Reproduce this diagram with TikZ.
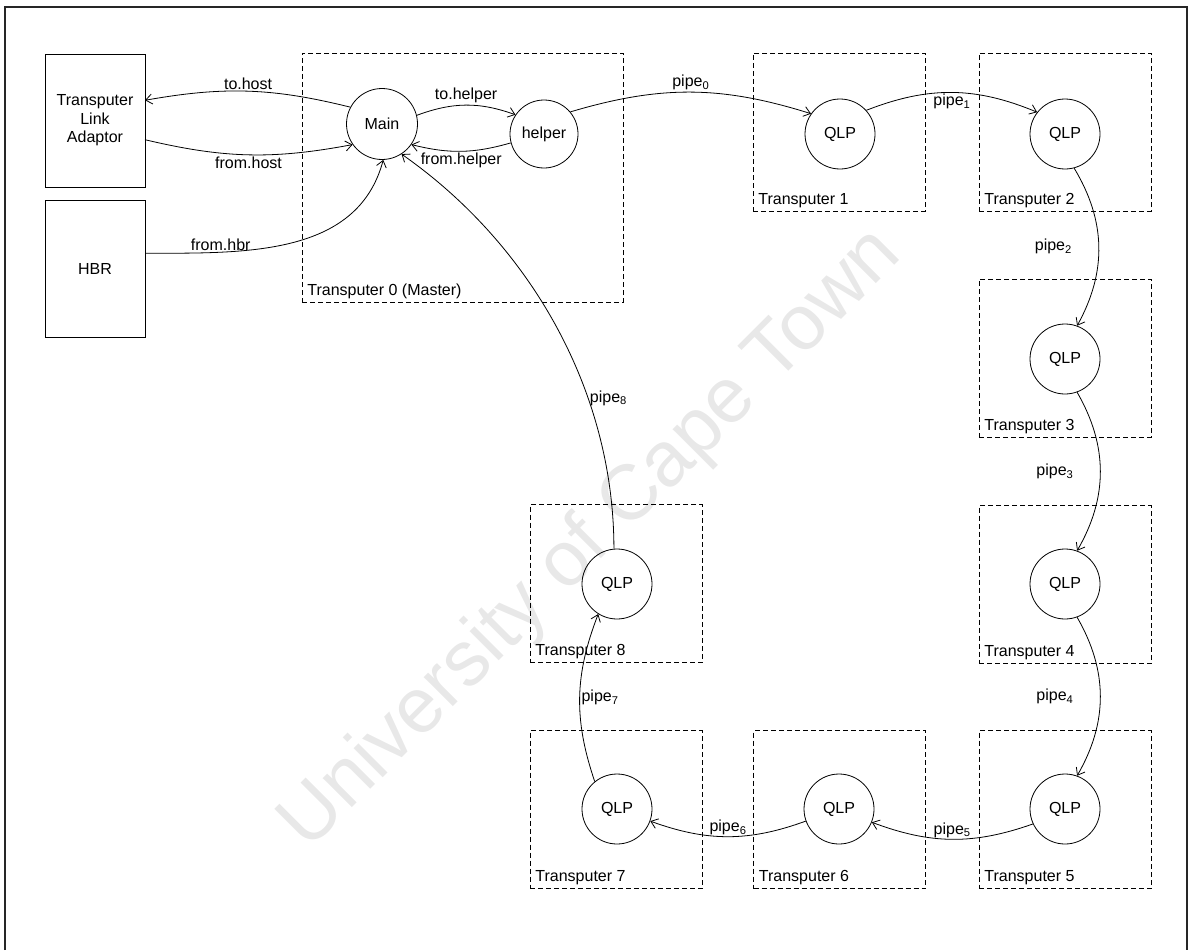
\documentclass[tikz,border=0pt]{standalone}
\usepackage{fontspec}
\setmainfont{Liberation Sans}
\usetikzlibrary{arrows.meta,calc}

\begin{document}
\begin{tikzpicture}[x=1pt,y=-1pt,
  font=\fontsize{16}{18.5}\selectfont,
  line width=0.8pt,
  proc/.style={circle, draw, minimum size=70pt, inner sep=0pt},
  tbox/.style={draw, dash pattern=on 5pt off 3pt, minimum width=172pt, minimum height=158pt, inner sep=0pt, outer sep=0pt},
  dev/.style={draw, align=center, minimum width=100pt, inner sep=0pt, outer sep=0pt},
  tname/.style={anchor=base west, inner sep=0pt},
  link/.style={-{Straight Barb[length=6.5pt,width=10pt]}},
  lab/.style={inner sep=1.5pt}
]
\useasboundingbox (0,0) rectangle (1190,950);

% watermark
\node[rotate=45, text=black!9, font=\fontsize{78}{82}\selectfont] (wm) at (592,540) {University of Cape Town};

% outer frame
\draw[line width=1.1pt, black!85] (5,950) -- (5,7) -- (1187,7) -- (1187,950);

% host side devices
\node[dev, minimum height=133pt] (tla) at (95,120.5) {Transputer\\Link\\Adaptor};
\node[dev, minimum height=137pt] (hbr) at (95,268.5) {HBR};

% transputer boxes
\node[tbox, minimum width=321pt, minimum height=249pt] (t0) at (462.5,177.5) {};
\node[tbox] (t1) at (839,132) {};
\node[tbox] (t2) at (1065,132) {};
\node[tbox] (t3) at (1065,358) {};
\node[tbox] (t4) at (1065,584.5) {};
\node[tbox] (t5) at (1065,809.5) {};
\node[tbox] (t6) at (839.5,809.5) {};
\node[tbox] (t7) at (616,809.5) {};
\node[tbox] (t8) at (616,583.5) {};

\node[tname] (n0) at ($(t0.south west)+(5,-7)$) {Transputer 0 (Master)};
\foreach \i in {1,...,8}{
  \node[tname] (n\i) at ($(t\i.south west)+(5,-7)$) {Transputer \i};
}

% processes
\node[proc, minimum size=71pt] (main) at (382,124) {Main};
\node[proc, minimum size=68pt] (helper) at (544,134) {helper};
\node[proc] (qlp1) at (840,134) {QLP};
\node[proc] (qlp2) at (1065,134) {QLP};
\node[proc] (qlp3) at (1065,359) {QLP};
\node[proc] (qlp4) at (1065,584) {QLP};
\node[proc] (qlp5) at (1065,809) {QLP};
\node[proc] (qlp6) at (839,809) {QLP};
\node[proc] (qlp7) at (617,809) {QLP};
\node[proc] (qlp8) at (617,584) {QLP};

% channels
\draw[link] (main.152) to[bend right=12] node[lab,above]{to.host} (tla.22);
\draw[link] (tla.-21) to[bend right=12] node[lab,below]{from.host} (main.215);
\draw[link] (hbr.17) to[out=0,in=-105] node[lab,above,pos=0.25]{from.hbr} (main.-88);
\draw[link] (main.14) to[bend left=20] node[lab,above]{to.helper} (helper.146);
\draw[link] (helper.195) to[bend left=15] node[lab,below]{from.helper} (main.-35);
\draw[link] (helper.40) to[bend left=17] node[lab,above]{pipe\textsubscript{0}} (qlp1.145);
\draw[link] (qlp1.42) to[bend left=22] node[lab,below]{pipe\textsubscript{1}} (qlp2.142);
\draw[link] (qlp2.-75) to[bend left=30] node[lab,left=25pt]{pipe\textsubscript{2}} (qlp3.70);
\draw[link] (qlp3.-70) to[bend left=30] node[lab,left=25pt]{pipe\textsubscript{3}} (qlp4.70);
\draw[link] (qlp4.-70) to[bend left=30] node[lab,left=25pt]{pipe\textsubscript{4}} (qlp5.70);
\draw[link] (qlp5.205) to[bend left=20] node[lab,above]{pipe\textsubscript{5}} (qlp6.-22);
\draw[link] (qlp6.200) to[bend left=20] node[lab,above]{pipe\textsubscript{6}} (qlp7.-20);
\draw[link] (qlp7.129) to[bend left=20] node[lab,right]{pipe\textsubscript{7}} (qlp8.238);
\draw[link] (qlp8.95) to[out=90,in=-35,looseness=0.9] node[lab,right,pos=0.33]{pipe\textsubscript{8}} (main.-57);
\end{tikzpicture}
\end{document}
